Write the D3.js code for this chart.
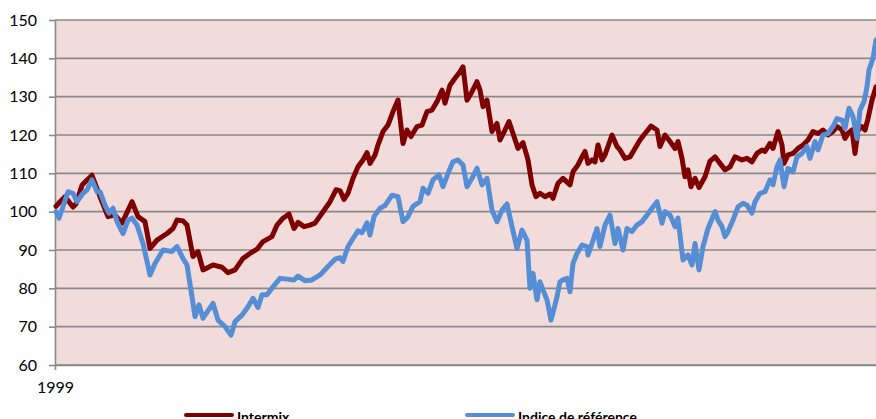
<!DOCTYPE html>
<html>
<head>
<meta charset="utf-8">
<script src="https://cdn.jsdelivr.net/npm/d3@7"></script>
<style>
  body { margin: 0; background: #ffffff; }
  #chart-container { width: 876px; height: 419px; overflow: hidden; }
  text { font-family: Lato, "Liberation Sans", sans-serif; }
</style>
</head>
<body>
<div id="chart-container"></div>
<script>
// Weeks since the start of January 1999 (weekly index values, base 100)
const intermixWeeks = [1, 5, 10, 18, 21, 27, 31, 37, 45, 53, 60, 67, 77, 83, 90, 95, 102, 112, 118, 122, 128, 132, 138, 143, 148, 158, 167, 173, 180, 188, 195, 202, 208, 217, 222, 228, 234, 239, 243, 249, 255, 260, 267, 275, 281, 285, 289, 293, 298, 303, 308, 312, 315, 320, 323, 328, 333, 338, 343, 348, 352, 356, 362, 367, 372, 377, 382, 387, 390, 395, 400, 405, 408, 412, 417, 422, 425, 428, 432, 437, 442, 445, 450, 454, 458, 463, 468, 473, 477, 481, 485, 490, 495, 498, 503, 508, 515, 518, 523, 527, 530, 533, 537, 540, 543, 547, 550, 557, 562, 565, 570, 575, 580, 585, 590, 596, 602, 605, 610, 615, 620, 623, 627, 630, 633, 636, 640, 644, 650, 655, 660, 665, 670, 675, 680, 687, 692, 697, 702, 707, 710, 715, 718, 723, 727, 729, 733, 738, 743, 748, 753, 758, 763, 768, 773, 778, 782, 787, 790, 793, 797, 800, 803, 807, 810, 813, 817, 821];
const intermixValues = [101.4, 102.6, 103.9, 101.2, 102, 106.9, 108, 109.5, 103.9, 98.7, 99.1, 97, 102.6, 98.7, 97.4, 90.4, 92.6, 94.3, 95.6, 97.8, 97.6, 96.5, 88.3, 89.6, 84.8, 86.1, 85.5, 84.1, 84.8, 87.8, 89.1, 90.2, 92.2, 93.5, 96.5, 98.3, 99.4, 95.6, 97.2, 96.1, 96.5, 97, 99.6, 102.6, 105.7, 105.5, 103.2, 104.8, 108.7, 111.7, 113.5, 115.4, 112.6, 114.8, 117.4, 120.9, 122.6, 126.1, 129.1, 117.8, 121.3, 119.6, 122.2, 122.6, 126.1, 126.5, 128.7, 131.7, 128.3, 133, 134.8, 136.5, 137.8, 129.1, 131.3, 133.9, 131.7, 127.4, 129.1, 120.9, 123, 118.7, 121.3, 123.5, 120.4, 116.5, 118, 113.5, 107, 103.9, 104.8, 103.9, 104.6, 103.5, 107.4, 108.7, 107, 110.4, 112.2, 114.3, 115.7, 112.6, 113.5, 113, 117.4, 113.5, 114.8, 120, 117, 116.1, 113.9, 114.3, 116.5, 118.7, 120.4, 122.3, 121.3, 117, 120, 118.3, 116.5, 118.3, 113.9, 109.1, 110.9, 106.5, 108.7, 106.3, 109.1, 113.2, 114.3, 112.6, 110.9, 111.7, 114.3, 113.5, 113.9, 113, 115.2, 116.1, 115.7, 117.8, 116.5, 120.9, 117.4, 112.6, 114.8, 115.2, 116.5, 117.4, 118.7, 120.9, 120.4, 121.3, 120, 120.9, 122.2, 121.3, 119.1, 120.4, 121.3, 115.2, 121.3, 122.2, 121.3, 124.3, 129.1, 132.6];

const indiceWeeks = [1, 4, 13, 18, 22, 28, 32, 37, 42, 45, 50, 54, 58, 62, 68, 73, 77, 82, 88, 95, 100, 108, 117, 122, 128, 132, 137, 140, 144, 148, 158, 163, 170, 176, 180, 187, 193, 198, 203, 207, 212, 218, 225, 232, 239, 243, 250, 257, 265, 273, 280, 285, 288, 293, 298, 303, 307, 312, 315, 319, 325, 330, 337, 343, 348, 353, 358, 365, 368, 373, 378, 384, 388, 393, 398, 403, 408, 412, 417, 422, 427, 432, 437, 442, 447, 452, 457, 462, 467, 472, 475, 478, 482, 485, 488, 492, 496, 502, 505, 508, 512, 515, 518, 522, 527, 532, 533, 537, 542, 545, 550, 555, 560, 563, 568, 572, 577, 582, 587, 592, 597, 602, 607, 610, 615, 620, 623, 628, 633, 637, 640, 644, 648, 653, 660, 663, 667, 670, 673, 678, 683, 688, 692, 697, 700, 705, 710, 715, 718, 722, 725, 729, 733, 738, 742, 747, 752, 755, 760, 763, 768, 773, 778, 782, 787, 790, 794, 798, 802, 805, 809, 812, 814, 818, 821];
const indiceValues = [100, 98.3, 105.2, 104.8, 102.6, 104.8, 105.7, 108.3, 105.2, 105.2, 101.7, 99.6, 100.9, 97.4, 94.3, 97.8, 98.3, 96.5, 91.7, 83.5, 86.5, 90, 89.6, 90.9, 87.8, 86.1, 77.8, 72.6, 75.7, 72.2, 76.1, 71.7, 70, 67.8, 71.3, 73, 75.2, 77.4, 75, 78.3, 78.3, 80.4, 82.6, 82.4, 82.2, 83.2, 82, 82.2, 83.5, 85.7, 87.6, 88, 87, 90.9, 93, 95, 94.5, 97.1, 93.9, 98.7, 100.9, 101.6, 104.3, 103.9, 97.4, 98.7, 101.4, 102.6, 106.1, 104.8, 108.3, 109.6, 106.5, 110, 113, 113.5, 112.2, 106.5, 108.7, 111.3, 107, 108.7, 100.4, 97.4, 100.4, 102, 96.1, 90.4, 95.2, 92.6, 80, 83.9, 77, 81.7, 79.6, 77, 71.7, 77.8, 81.7, 82.2, 82.6, 79.1, 86.5, 89.1, 91.3, 90.9, 88.7, 91.7, 95.6, 90.9, 96.5, 99.1, 91.7, 95.6, 90, 95.6, 94.8, 96.5, 97.4, 99.1, 100.9, 102.6, 97, 100, 99.1, 96.1, 98.3, 87.4, 88.7, 86.1, 91.7, 84.8, 90.9, 95.6, 100, 97.8, 96.1, 93.5, 94.8, 97.8, 101.3, 102.2, 101.7, 99.6, 102.6, 104.8, 105.2, 108.3, 107, 111.7, 113.5, 106.5, 111.3, 110.4, 114.3, 115.2, 117, 113.9, 118.3, 116.1, 120, 120.4, 122.2, 124.3, 123.9, 121.7, 127, 124.8, 119.1, 126.5, 128.7, 132.6, 137, 140, 144.8];

const yTicks = [60, 70, 80, 90, 100, 110, 120, 130, 140, 150];
const xTickWeeks = [0];
const xTickLabels = ["1999"];
const seriesNames = ["Intermix", "Indice de référence"];

function buildChart() {
    const margin = { top: 20, right: 0, bottom: 54, left: 55 },
      width = 876 - margin.left - margin.right,
      height = 419 - margin.top - margin.bottom;

    const svg = d3.select("#chart-container")
        .append("svg")
        .attr("width", 876)
        .attr("height", 419)
        .append("g")
        .attr("transform", `translate(${margin.left},${margin.top})`);

    const x = d3.scaleLinear()
        .domain([0, 821])
        .range([0, width]);

    const y = d3.scaleLinear()
        .domain([60, 150])
        .range([height, 0]);

    const colorScale = name => name === "Intermix" ? "#7f0000" : "#558ed5";

    // plot background
    svg.append("rect")
        .attr("x", 0)
        .attr("y", 0)
        .attr("width", width)
        .attr("height", height)
        .attr("fill", "#f2dcdb");

    // gridlines
    svg.append("g")
        .selectAll("line")
        .data(yTicks)
        .join("line")
        .attr("x1", 0)
        .attr("x2", width)
        .attr("y1", d => y(d))
        .attr("y2", d => y(d))
        .style("stroke", "#898989")
        .style("stroke-width", 1.6);

    // y axis
    const yAxis = svg.append("g")
        .call(d3.axisLeft(y).tickValues(yTicks).tickSize(6).tickSizeOuter(0).tickPadding(12));
    yAxis.select(".domain").style("stroke", "#898989").style("stroke-width", 1.6);
    yAxis.selectAll(".tick line").style("stroke", "#898989").style("stroke-width", 1.6);
    yAxis.selectAll("text")
        .style("font-family", "Lato, sans-serif")
        .style("font-size", "16px")
        .style("fill", "#000");

    // x axis
    const xAxis = svg.append("g")
        .attr("transform", `translate(0, ${height})`)
        .call(d3.axisBottom(x)
            .tickValues(xTickWeeks)
            .tickFormat((d, i) => xTickLabels[i])
            .tickSize(5)
            .tickSizeOuter(0)
            .tickPadding(12));
    xAxis.select(".domain").style("stroke", "#898989").style("stroke-width", 1.6);
    xAxis.selectAll(".tick line").style("stroke", "#898989").style("stroke-width", 1.6);
    xAxis.selectAll("text")
        .style("font-family", "Lato, sans-serif")
        .style("font-size", "16px")
        .style("fill", "#000");

    // lines
    const series = [
        { name: seriesNames[0], weeks: intermixWeeks, values: intermixValues },
        { name: seriesNames[1], weeks: indiceWeeks, values: indiceValues }
    ];

    const line = d3.line()
        .x(p => x(p[0]))
        .y(p => y(p[1]));

    svg.selectAll(".series")
        .data(series)
        .join("path")
        .attr("class", "series")
        .attr("fill", "none")
        .attr("stroke", d => colorScale(d.name))
        .attr("stroke-width", 5)
        .attr("stroke-linejoin", "round")
        .attr("stroke-linecap", "round")
        .attr("d", d => line(d.weeks.map((w, i) => [w, d.values[i]])));

    // legend
    const legend = d3.select("#chart-container svg").append("g")
        .attr("transform", "translate(186, 415)");

    const legendX = [0, 281];

    legend.selectAll("line")
        .data(seriesNames)
        .join("line")
        .attr("x1", (d, i) => legendX[i])
        .attr("x2", (d, i) => legendX[i] + 46)
        .attr("y1", 0)
        .attr("y2", 0)
        .style("stroke", d => colorScale(d))
        .style("stroke-width", 4)
        .style("stroke-linecap", "round");

    legend.selectAll("text")
        .data(seriesNames)
        .join("text")
        .attr("x", (d, i) => legendX[i] + 51)
        .attr("y", 7)
        .style("font-size", "14px")
        .style("font-weight", "bold")
        .style("fill", "#000")
        .text(d => d);
}

buildChart();
</script>
</body>
</html>
